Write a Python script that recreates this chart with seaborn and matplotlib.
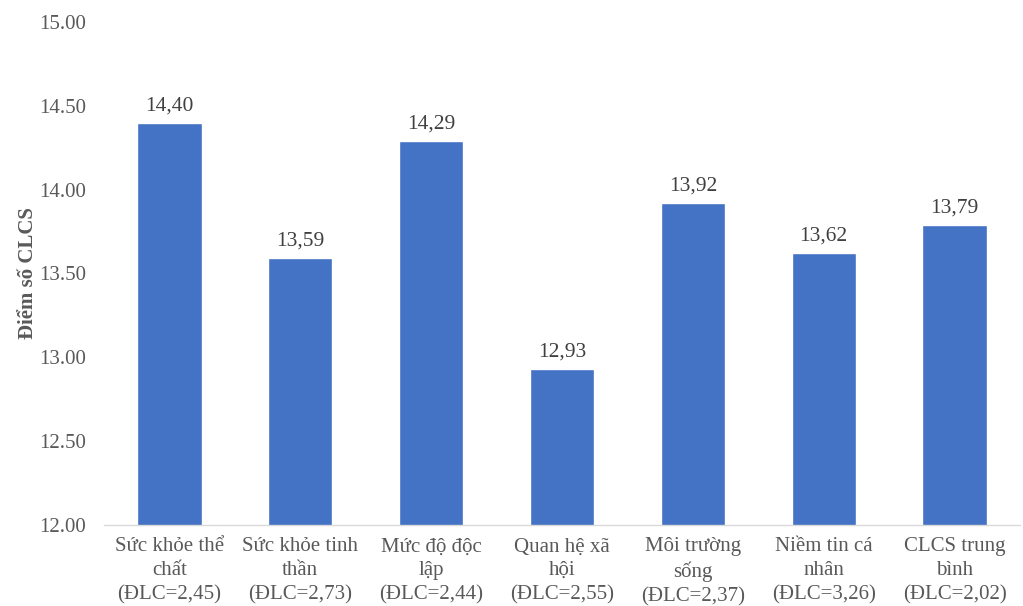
import pandas as pd
import seaborn as sns
import matplotlib.pyplot as plt

# Dữ liệu
nhan = ["Sức khỏe thể\nchất\n(ĐLC=2,45)", "Sức khỏe tinh\nthần\n(ĐLC=2,73)",
        "Mức độ độc\nlập\n(ĐLC=2,44)", "Quan hệ xã\nhội\n(ĐLC=2,55)",
        "Môi trường\nsống\n(ĐLC=2,37)", "Niềm tin cá\nnhân\n(ĐLC=3,26)",
        "CLCS trung\nbình\n(ĐLC=2,02)"]
diem = [14.40, 13.59, 14.29, 12.93, 13.92, 13.62, 13.79]
y_ticks = [12.0, 12.5, 13.0, 13.5, 14.0, 14.5, 15.0]

sns.set_style("white")
plt.rcParams['font.family'] = 'serif'
plt.rcParams['font.serif'] = ['Liberation Serif', 'DejaVu Serif']

df = pd.DataFrame({"Nhom": nhan, "Diem": diem})

fig = plt.figure(figsize=(10.23, 6.06), dpi=100)
ax = fig.add_axes([0.1017, 0.1337, 0.8953, 0.83])
sns.barplot(data=df, x="Nhom", y="Diem", color="#4472C4", width=0.49,
            saturation=1, ax=ax)

fs = 15
ax.set_ylim(12, 15)
ax.set_yticks(y_ticks)
ax.set_yticklabels([f"{v:.2f}" for v in y_ticks], fontsize=fs, color="#595959")
ax.set_xticks(range(len(nhan)))
ax.set_xticklabels(nhan, fontsize=fs, color="#595959", linespacing=1.33)
ax.tick_params(axis="x", length=0, pad=9)
ax.tick_params(axis="y", length=0, pad=13)
ax.set_xlim(-0.5, len(nhan) - 0.5)

for i, v in enumerate(diem):
    ax.text(i, v + 0.045, f"{v:.2f}".replace(".", ","), ha="center", va="bottom",
            fontsize=15.5, color="#404040")

ax.set_xlabel("")
ax.set_ylabel("Điểm số CLCS", fontsize=fs, fontweight="bold", color="#595959")
ax.yaxis.set_label_coords(-0.072, 0.5)

for s in ["top", "right", "left"]:
    ax.spines[s].set_visible(False)
ax.spines["bottom"].set_color("#D9D9D9")
ax.spines["bottom"].set_linewidth(1)

fig.savefig("out.png", dpi=100)
